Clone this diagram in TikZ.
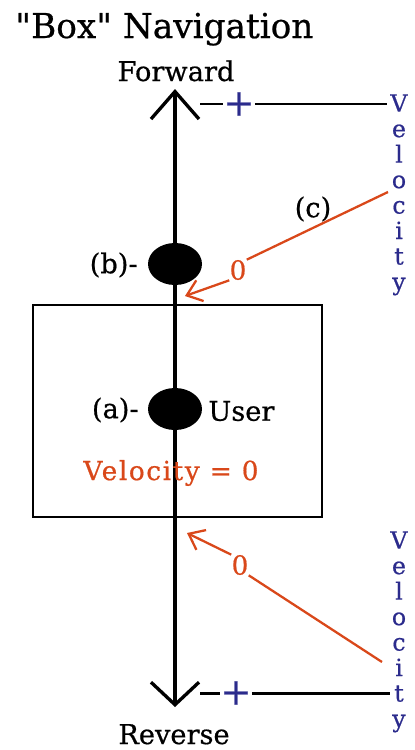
\documentclass[tikz,border=0pt]{standalone}
\usepackage{fontspec}
\setmainfont[FakeBold=0.6]{DejaVu Serif}
\usepackage{xcolor}
\usepackage{tikz}
\usetikzlibrary{positioning,arrows.meta,shapes.geometric}
\definecolor{velblue}{HTML}{2B2B8C}
\definecolor{velred}{HTML}{D9481A}

\begin{document}
\begin{tikzpicture}[
    x=0.2mm,y=-0.2mm,
    axis/.style={line width=1.9pt,black},
    ball/.style={ellipse,fill=black,minimum width=10.8mm,minimum height=8.4mm,inner sep=0pt},
    tag/.style={font=\fontsize{15.5}{18}\selectfont,inner sep=0pt},
    plus/.style={font=\fontsize{21}{21}\selectfont,text=velblue,inner sep=0pt},
    stacked/.style={font=\fontsize{13.5}{14.5}\selectfont,text=velblue,align=center,inner sep=0pt},
    zero/.style={font=\fontsize{15}{18}\selectfont,text=velred,inner sep=0pt},
    pointer/.style={line width=1.3pt,velred},
    tick/.style={line width=1.7pt,black}
]
\useasboundingbox (0,0) rectangle (415,750);

\node[font=\fontsize{19.5}{22}\selectfont,anchor=base west,inner sep=0pt] (title) at (15,38) {\textquotedbl Box\textquotedbl{} Navigation};

\node[tag,anchor=base] (fwd) at (176,81) {Forward};
\node[tag,anchor=base] (rev) at (174,744) {Reverse};
\coordinate (top) at (175,89);
\coordinate (bot) at (175,707);

% user box
\node[draw,line width=1.4pt,minimum width=57.8mm,minimum height=42.4mm,inner sep=0pt] (box) at (177.5,411) {};
\draw[axis,{Straight Barb[length=5.5mm,width=9.6mm]}-{Straight Barb[length=4.5mm,width=9.6mm]}] (top) -- (bot);

\node[ball] (b) at (175,264) {};
\node[ball] (a) at (175,409) {};
\node[tag,anchor=east] (blabel) at (138,265) {(b)-};
\node[tag,anchor=east] (alabel) at (139,410) {(a)-};
\node[tag,anchor=west] (user) at (208,411) {User};
\node[zero,anchor=center] (vzero) at (171,473) {\addfontfeature{LetterSpace=6}Velocity = 0};

% forward scale
\node[plus] (fplus) at (239,104) {+};
\node[stacked,anchor=north] (fvel) at (399,94) {V\\e\\l\\o\\c\\i\\t\\y};
\coordinate (fdash) at (200,104);
\draw[tick] (fdash) -- (fplus.west);
\draw[tick] (fplus.east) -- (387,104);

% reverse scale
\node[plus] (rplus) at (236,693) {+};
\node[stacked,anchor=north] (rvel) at (399,531) {V\\e\\l\\o\\c\\i\\t\\y};
\coordinate (rdash) at (200,693);
\draw[tick] (rdash) -- (rplus.west);
\draw[tick] (rplus.east) -- (390,693);

% pointer (c)
\node[zero] (czero) at (238,270) {0};
\node[tag] (clabel) at (313,209) {(c)};
\coordinate (cstart) at (388,192);
\coordinate (ctip) at (185,296);
\draw[pointer] (cstart) -- (czero.north east);
\draw[pointer,-{Straight Barb[length=2.8mm,width=4.4mm]}] (czero.south west) -- (ctip);

% pointer reverse
\node[zero] (rzero) at (240,565) {0};
\coordinate (rstart) at (382,662);
\coordinate (rtip) at (187,533);
\draw[pointer] (rstart) -- (rzero.south east);
\draw[pointer,-{Straight Barb[length=2.8mm,width=4.4mm]}] (rzero.north west) -- (rtip);
\end{tikzpicture}
\end{document}
